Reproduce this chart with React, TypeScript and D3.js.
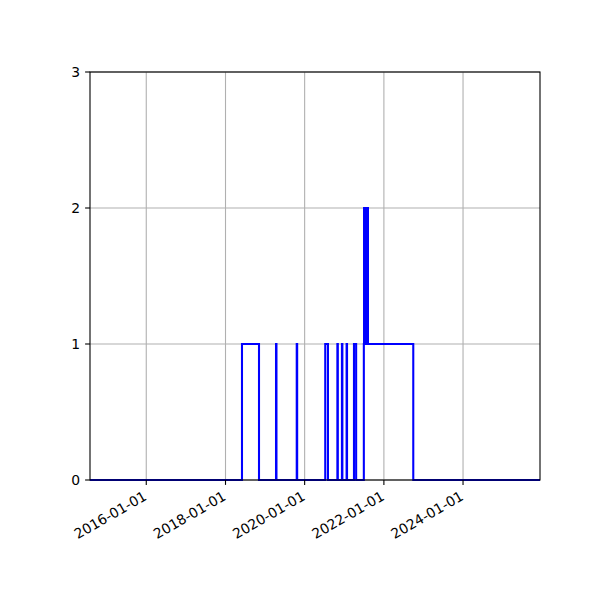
import { useMemo } from "react";
import * as d3 from "d3";

// step series: each entry is the value that holds from that date onward
const stepDates = [
  "2014-07-31",
  "2018-06-02",
  "2018-11-06",
  "2019-04-12",
  "2019-04-16",
  "2019-10-20",
  "2019-10-24",
  "2020-07-09",
  "2020-08-03",
  "2020-10-29",
  "2020-11-02",
  "2020-12-10",
  "2020-12-14",
  "2021-01-22",
  "2021-01-26",
  "2021-03-31",
  "2021-04-20",
  "2021-06-30",
  "2021-07-02",
  "2021-07-20",
  "2021-07-23",
  "2021-08-07",
  "2022-09-29",
  "2025-12-11",
];
const stepValues = [0, 1, 0, 1, 0, 1, 0, 1, 0, 1, 0, 1, 0, 1, 0, 1, 0, 1, 2, 1, 2, 1, 0, 0];

const xTickLabels = ["2016-01-01", "2018-01-01", "2020-01-01", "2022-01-01", "2024-01-01"];
const yTickValues = [0, 1, 2, 3];

const WIDTH = 600;
const HEIGHT = 600;
const FONT = "'DejaVu Sans', sans-serif";

export default function App() {
  const margin = { top: 72, right: 60, bottom: 120, left: 90 };
  const innerWidth = WIDTH - margin.left - margin.right;
  const innerHeight = HEIGHT - margin.top - margin.bottom;

  const parse = d3.utcParse("%Y-%m-%d");
  const points = useMemo(
    () => stepDates.map((d, i) => ({ date: parse(d) as Date, value: stepValues[i] })),
    []
  );

  const xScale = d3
    .scaleUtc()
    .domain([points[0].date, points[points.length - 1].date])
    .range([0, innerWidth]);
  const yScale = d3.scaleLinear().domain([0, 3]).range([innerHeight, 0]);

  const line = d3
    .line<{ date: Date; value: number }>()
    .x((d) => xScale(d.date))
    .y((d) => yScale(d.value))
    .curve(d3.curveStepAfter);

  const xTicks = xTickLabels.map((label) => ({
    label,
    offset: xScale(parse(label) as Date),
  }));

  return (
    <svg
      width={WIDTH}
      height={HEIGHT}
      style={{ position: "absolute", left: 0, top: 0, background: "#fff" }}
      fontFamily={FONT}
    >
      <g transform={`translate(${margin.left}, ${margin.top})`}>
        {/* Grid lines */}
        {xTicks.map(({ label, offset }) => (
          <line
            key={`gx-${label}`}
            x1={offset}
            x2={offset}
            y1={0}
            y2={innerHeight}
            stroke="#b0b0b0"
            strokeWidth={1.1}
          />
        ))}
        {yTickValues.map((v) => (
          <line
            key={`gy-${v}`}
            x1={0}
            x2={innerWidth}
            y1={yScale(v)}
            y2={yScale(v)}
            stroke="#b0b0b0"
            strokeWidth={1.1}
          />
        ))}

        {/* Step line */}
        <path
          d={line(points) || ""}
          fill="none"
          stroke="#0000ff"
          strokeWidth={2.08}
          strokeLinejoin="miter"
        />

        {/* Spines */}
        <rect
          x={0}
          y={0}
          width={innerWidth}
          height={innerHeight}
          fill="none"
          stroke="#000"
          strokeWidth={1.1}
        />

        {/* X-axis */}
        {xTicks.map(({ label, offset }) => (
          <g key={`tx-${label}`} transform={`translate(${offset}, ${innerHeight})`}>
            <line y1={0} y2={4.9} stroke="#000" strokeWidth={1.1} />
            <text
              transform="translate(1.5, 19) rotate(-30)"
              textAnchor="end"
              fontSize={13.9}
              fill="#000"
            >
              {label}
            </text>
          </g>
        ))}

        {/* Y-axis */}
        {yTickValues.map((v) => (
          <g key={`ty-${v}`} transform={`translate(0, ${yScale(v)})`}>
            <line x1={-4.9} x2={0} stroke="#000" strokeWidth={1.1} />
            <text
              x={-9.8}
              dy="0.35em"
              textAnchor="end"
              fontSize={13.9}
              fill="#000"
            >
              {v}
            </text>
          </g>
        ))}
      </g>
    </svg>
  );
}
